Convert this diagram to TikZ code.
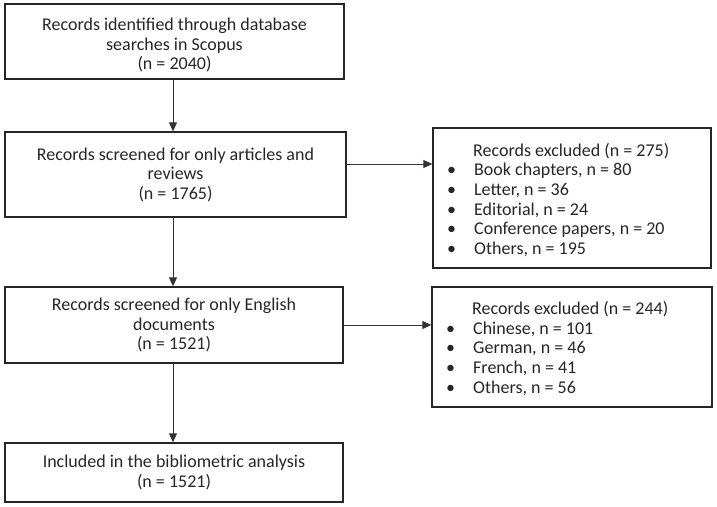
\documentclass[tikz,border=0pt]{standalone}
\usepackage{fontspec}
\setmainfont{Carlito}
\usetikzlibrary{arrows.meta}
\newcommand\bul{\hspace*{6pt}\makebox[27pt][l]{•}}
\newcommand\hdr{\hspace*{32pt}}
\begin{document}
\begin{tikzpicture}[x=1pt,y=-1pt,
  flowbox/.style={draw=black!85, line width=1.3pt, align=center, inner sep=0pt,
    font=\fontsize{18}{19.5}\selectfont, text=black!85},
  centertext/.style={align=center, inner sep=0pt,
    font=\fontsize{18}{19.5}\selectfont, text=black!85},
  listtext/.style={align=left, inner sep=0pt, anchor=west,
    font=\fontsize{18}{19.7}\selectfont, text=black!85},
  arr/.style={draw=black!80, line width=0.9pt, -{Triangle[length=9pt,width=8pt]}}]
\useasboundingbox (0,0) rectangle (717,506);

\node[flowbox, minimum width=339, minimum height=75] (b1) at (174.5,41.5) {};
\node[centertext] (b1t) at (174.5,45)
  {Records identified through database\\searches in Scopus\\(n = 2040)};
\node[flowbox, minimum width=341, minimum height=85] (b2) at (175.5,174.5)
  {Records screened for only articles and\\reviews\\(n = 1765)};
\node[flowbox, minimum width=338, minimum height=76] (b3) at (174,325)
  {Records screened for only English\\documents\\(n = 1521)};
\node[flowbox, minimum width=338, minimum height=59] (b4) at (174,472.5)
  {Included in the bibliometric analysis\\(n = 1521)};

\node[flowbox, minimum width=278, minimum height=140] (r1) at (572,198) {};
\node[listtext] (r1t) at (441,200)
  {\hdr Records excluded (n = 275)\\
   \bul Book chapters, n = 80\\
   \bul Letter, n = 36\\
   \bul Editorial, n = 24\\
   \bul Conference papers, n = 20\\
   \bul Others, n = 195};

\node[flowbox, minimum width=280, minimum height=120] (r2) at (572,347) {};
\node[listtext] (r2t) at (440,348.5)
  {\hdr Records excluded (n = 244)\\
   \bul Chinese, n = 101\\
   \bul German, n = 46\\
   \bul French, n = 41\\
   \bul Others, n = 56};

\coordinate (a1s) at (173,79);
\coordinate (a1e) at (173,132);
\coordinate (a2s) at (173,217);
\coordinate (a2e) at (173,287);
\coordinate (a3s) at (173,363);
\coordinate (a3e) at (173,443);
\draw[arr] (b1.south -| a1s) -- (b2.north -| a1e);
\draw[arr] (b2.south -| a2s) -- (b3.north -| a2e);
\draw[arr] (b3.south -| a3s) -- (b4.north -| a3e);

\coordinate (h1) at (0,164);
\coordinate (h2) at (0,325);
\draw[arr] (b2.east |- h1) -- (r1.west |- h1);
\draw[arr] (b3.east |- h2) -- (r2.west |- h2);
\end{tikzpicture}
\end{document}
